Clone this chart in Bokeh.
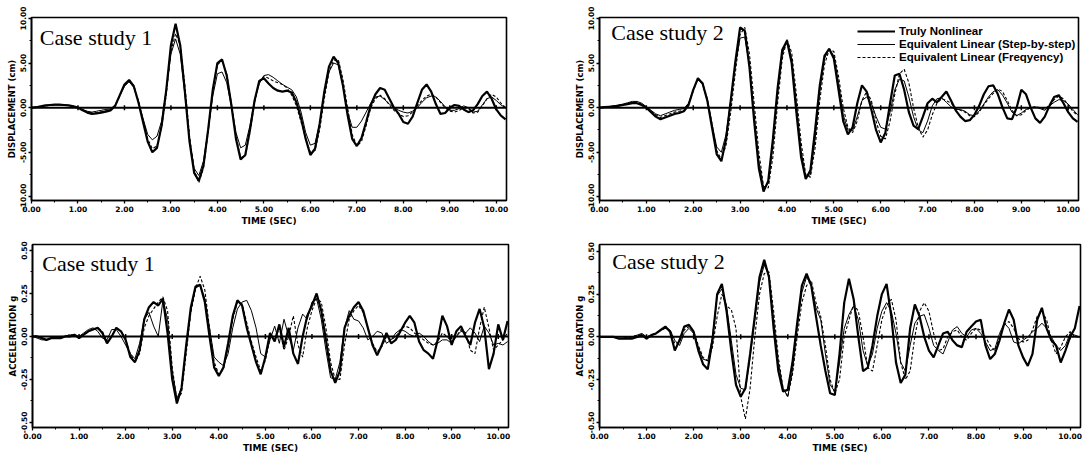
from bokeh.plotting import figure
from bokeh.layouts import column, row
from bokeh.models import (Range1d, FixedTicker, PrintfTickFormatter, Span, Label,
                          Legend, LegendItem)
from bokeh.embed import file_html
from bokeh.resources import INLINE

# ---------------- data ----------------
t = [0.0, 0.1, 0.2, 0.3, 0.4, 0.5, 0.6, 0.7, 0.8, 0.9,
     1.0, 1.1, 1.2, 1.3, 1.4, 1.5, 1.6, 1.7, 1.8, 1.9,
     2.0, 2.1, 2.2, 2.3, 2.4, 2.5, 2.6, 2.7, 2.8, 2.9,
     3.0, 3.1, 3.2, 3.3, 3.4, 3.5, 3.6, 3.7, 3.8, 3.9,
     4.0, 4.1, 4.2, 4.3, 4.4, 4.5, 4.6, 4.7, 4.8, 4.9,
     5.0, 5.1, 5.2, 5.3, 5.4, 5.5, 5.6, 5.7, 5.8, 5.9,
     6.0, 6.1, 6.2, 6.3, 6.4, 6.5, 6.6, 6.7, 6.8, 6.9,
     7.0, 7.1, 7.2, 7.3, 7.4, 7.5, 7.6, 7.7, 7.8, 7.9,
     8.0, 8.1, 8.2, 8.3, 8.4, 8.5, 8.6, 8.7, 8.8, 8.9,
     9.0, 9.1, 9.2, 9.3, 9.4, 9.5, 9.6, 9.7, 9.8, 9.9,
     10.0, 10.1, 10.2]

# Case study 1 - displacement (cm)
disp1_tn = [0, 0.05, 0.15, 0.25, 0.3, 0.35, 0.35, 0.3, 0.25, 0.15,
            0.0, -0.3, -0.55, -0.7, -0.65, -0.55, -0.45, -0.3, 0.2, 1.4,
            2.6, 3.1, 2.4, 0.6, -1.6, -3.8, -5.0, -4.5, -2.0, 2.0,
            7.0, 9.4, 7.0, 1.8, -3.8, -7.3, -8.2, -6.5, -2.5, 2.0,
            5.0, 5.4, 3.6, 0.3, -3.5, -5.8, -5.3, -2.5, 0.8, 3.0,
            3.3, 2.7, 2.2, 1.9, 1.8, 1.9, 1.7, 0.6, -1.2, -3.5,
            -5.3, -4.6, -1.8, 1.8, 4.6, 5.7, 5.0, 2.5, -0.8, -3.5,
            -4.3, -3.4, -1.6, 0.3, 1.5, 2.2, 2.0, 1.0, 0.0, -0.7,
            -1.6, -1.8, -1.0, 0.5, 2.0, 2.6, 1.8, 0.4, -0.7, -0.6,
            0.0, 0.3, 0.2, -0.2, -0.5, -0.3, 0.4, 1.3, 1.8, 1.0,
            -0.2, -0.9, -1.3]
disp1_ss = [0, 0.03, 0.1, 0.2, 0.25, 0.3, 0.3, 0.3, 0.25, 0.15,
            0.0, -0.2, -0.4, -0.5, -0.4, -0.3, -0.2, -0.15, 0.3, 1.4,
            2.4, 2.9, 2.3, 0.7, -1.2, -3.0, -3.6, -3.2, -1.5, 2.0,
            6.0, 7.7, 6.0, 1.5, -3.5, -6.8, -7.6, -6.0, -2.5, 1.3,
            3.8, 4.0, 2.8, 0.2, -2.8, -4.5, -4.2, -2.0, 0.8, 2.7,
            3.6, 3.7, 3.4, 3.0, 2.6, 2.3, 2.0, 1.2, -0.5, -2.8,
            -4.2, -4.0, -1.8, 1.5, 4.0, 5.0, 4.8, 2.5, -0.5, -2.2,
            -2.2, -1.5, -0.5, 0.5, 1.2, 1.3, 0.9, 0.4, 0.0, -0.3,
            -0.5, -0.6, -0.4, 0.0, 0.6, 1.1, 1.3, 1.2, 0.7, 0.1,
            -0.3, -0.3, -0.1, 0.2, 0.0, -0.5, -0.4, 0.3, 1.0, 1.2,
            0.8, 0.3, 0.0]
disp1_fq = [0, 0.04, 0.12, 0.22, 0.28, 0.32, 0.32, 0.3, 0.25, 0.15,
            0.0, -0.25, -0.5, -0.6, -0.55, -0.45, -0.35, -0.25, 0.2, 1.3,
            2.5, 3.0, 2.5, 0.8, -1.4, -3.5, -4.6, -4.3, -2.2, 1.5,
            6.3, 8.3, 7.0, 2.5, -3.2, -7.0, -8.4, -6.8, -2.8, 1.8,
            4.8, 5.3, 3.8, 0.5, -3.2, -5.6, -5.4, -2.8, 0.6, 2.8,
            3.5, 3.3, 3.0, 2.8, 2.6, 2.2, 1.4, 0.2, -1.6, -3.5,
            -5.0, -4.8, -2.5, 1.0, 4.0, 5.3, 5.4, 3.2, 0.0, -3.0,
            -4.3, -3.8, -2.0, 0.0, 1.0, 1.4, 1.0, 0.3, -0.3, -0.7,
            -1.0, -0.9, -0.5, 0.2, 0.8, 1.3, 1.5, 1.2, 0.6, 0.0,
            -0.4, -0.5, -0.3, 0.0, -0.1, -0.6, -0.5, 0.2, 1.0, 1.5,
            1.2, 0.5, 0.0]

# Case study 2 - displacement (cm)
disp2_tn = [0, 0.05, 0.1, 0.15, 0.2, 0.3, 0.4, 0.5, 0.5, 0.3,
            0.0, -0.5, -1.0, -1.3, -1.1, -0.9, -0.7, -0.6, -0.4, 0.3,
            2.0, 3.3, 2.7, 0.8, -2.2, -5.2, -6.0, -3.5, 0.8, 5.2,
            9.0, 8.6, 4.5, -1.5, -6.8, -9.4, -8.2, -3.5, 2.2, 6.5,
            7.5, 5.0, -0.5, -5.5, -8.0, -7.0, -2.5, 2.5, 5.8, 6.6,
            5.5, 2.0, -1.5, -3.0, -2.2, 0.5, 2.5, 1.8, -0.2, -2.5,
            -3.9, -2.8, 0.5, 3.6, 3.8, 2.0, -0.5, -2.0, -2.4, -1.0,
            0.5, 1.0, 0.6, 1.2, 1.8, 0.8, -0.3, -1.0, -1.5, -1.4,
            -0.8, 0.2, 1.5, 2.4, 2.5, 1.5, 0.0, -1.2, -1.3, 0.0,
            2.0, 1.5, 0.0, -1.2, -1.7, -1.0, 0.2, 1.2, 1.4, 0.5,
            -0.5, -1.2, -1.6]
disp2_ss = [0, 0.05, 0.1, 0.2, 0.3, 0.4, 0.55, 0.7, 0.7, 0.5,
            0.1, -0.3, -0.7, -0.9, -0.7, -0.5, -0.3, -0.2, -0.1, 0.5,
            2.0, 3.2, 2.6, 0.8, -1.8, -4.4, -5.0, -3.0, 0.8, 4.8,
            7.8, 7.9, 4.8, -0.8, -6.0, -9.0, -8.5, -4.2, 1.5, 6.0,
            7.6, 5.5, 0.5, -4.8, -7.8, -7.5, -3.5, 1.8, 5.5, 6.6,
            5.8, 2.8, -0.8, -2.5, -2.6, -1.0, 0.8, 1.2, 0.5, -1.0,
            -2.2, -2.4, -0.5, 2.0, 3.2, 3.0, 1.2, -1.0, -2.5, -2.8,
            -1.5, 0.2, 1.0, 1.1, 0.6, 0.1, -0.2, -0.2, -0.4, -0.8,
            -0.9, -0.4, 0.4, 1.2, 1.8, 2.0, 1.4, 0.5, -0.5, -0.9,
            -0.6, -0.2, 0.0, 0.1, -0.1, -0.3, 0.2, 0.6, 0.9, 0.8,
            0.4, -0.2, -0.8]
disp2_fq = [0, 0.05, 0.1, 0.15, 0.25, 0.35, 0.45, 0.6, 0.6, 0.4,
            0.05, -0.4, -0.8, -1.1, -0.9, -0.7, -0.5, -0.4, -0.3, 0.4,
            1.9, 3.2, 2.8, 1.0, -1.8, -4.8, -5.8, -4.2, -0.5, 4.0,
            8.2, 9.0, 6.0, 0.5, -5.0, -8.8, -9.0, -5.5, 0.5, 5.5,
            7.6, 6.2, 1.5, -3.8, -7.5, -7.8, -4.5, 0.8, 4.8, 6.5,
            6.3, 3.5, 0.0, -2.2, -2.8, -1.5, 0.8, 1.8, 0.8, -1.5,
            -3.2, -3.5, -1.5, 1.5, 3.8, 4.3, 2.8, 0.0, -2.2, -3.3,
            -2.5, -0.8, 0.5, 1.0, 0.8, 0.5, 0.0, -0.3, -0.5, -0.9,
            -1.0, -0.5, 0.3, 1.0, 1.6, 2.1, 1.8, 0.8, -0.3, -0.9,
            -0.8, -0.3, 0.0, 0.1, 0.0, -0.2, 0.3, 0.9, 1.3, 1.0,
            0.3, -0.4, -0.9]

# Case study 1 - acceleration (g)
acc1_tn = [0, 0, -0.01, -0.02, -0.01, -0.01, -0.01, 0.0, 0.0, 0.01,
           -0.01, 0.01, 0.03, 0.04, 0.05, 0.02, -0.04, 0.0, 0.05, 0.03,
           -0.02, -0.12, -0.15, -0.08, 0.1, 0.17, 0.2, 0.18, 0.22, 0.02,
           -0.25, -0.39, -0.3, -0.05, 0.17, 0.29, 0.3, 0.2, 0.0, -0.18,
           -0.23, -0.18, -0.04, 0.12, 0.21, 0.18, 0.05, -0.05, -0.15, -0.22,
           -0.12, 0.02, -0.03, 0.07, -0.06, 0.05, -0.1, -0.16, 0.0, 0.12,
           0.18, 0.25, 0.15, -0.02, -0.2, -0.27, -0.2, 0.05, 0.12, 0.17,
           0.2, 0.15, 0.05, -0.05, -0.11, -0.05, 0.02, -0.04, -0.02, 0.03,
           0.08, 0.12, 0.08, -0.03, -0.08, -0.1, -0.13, -0.02, 0.12, 0.06,
           -0.05, 0.03, 0.06, 0.0, -0.05, 0.08, 0.16, 0.05, -0.19, -0.1,
           0.07, -0.02, 0.09]
acc1_ss = [0, -0.01, -0.02, -0.02, -0.01, -0.01, 0, 0, 0.01, 0,
           0, 0.02, 0.04, 0.05, 0.03, -0.01, -0.02, 0.04, 0.04, 0.0,
           -0.05, -0.1, -0.13, -0.04, 0.1, 0.14, 0.06, 0.0, 0.21, 0.1,
           -0.2, -0.36, -0.3, -0.07, 0.15, 0.28, 0.3, 0.22, 0.05, -0.12,
           -0.15, -0.17, -0.1, 0.05, 0.16, 0.2, 0.21, 0.15, 0.05, -0.1,
           -0.12, -0.02, 0.06, -0.04, 0.1, 0.0, -0.08, 0.05, 0.13, 0.1,
           0.2, 0.22, 0.1, -0.08, -0.24, -0.25, -0.15, 0.05, 0.15, 0.1,
           0.09, 0.05, -0.02, 0.0, 0.03, 0.02, -0.04, -0.02, 0.02, 0.04,
           0.03, 0.01, 0.0, 0.02, 0.0, -0.03, -0.05, -0.04, -0.02, -0.02,
           -0.04, 0.0, 0.03, 0.02, 0.05, 0.02, -0.03, 0.06, 0.02, -0.05,
           -0.04, -0.05, -0.03]
acc1_fq = [0, 0, -0.01, -0.02, -0.01, -0.01, 0, 0, 0.01, 0.01,
           0, 0.01, 0.03, 0.04, 0.05, 0.03, -0.03, 0.0, 0.05, 0.03,
           -0.02, -0.1, -0.15, -0.1, 0.05, 0.12, 0.16, 0.2, 0.23, 0.15,
           -0.18, -0.37, -0.33, -0.1, 0.14, 0.28, 0.35, 0.27, 0.05, -0.15,
           -0.22, -0.19, -0.06, 0.1, 0.2, 0.19, 0.08, -0.03, -0.12, -0.2,
           -0.14, 0.0, -0.02, 0.05, -0.08, 0.0, 0.12, -0.05, -0.12, 0.05,
           0.15, 0.22, 0.2, 0.05, -0.15, -0.25, -0.25, -0.05, 0.1, 0.15,
           0.18, 0.14, 0.05, -0.04, -0.09, -0.06, 0.0, -0.02, 0.0, 0.04,
           0.06, 0.05, 0.02, 0.0, -0.02, -0.04, -0.05, -0.03, 0.02, 0.0,
           -0.03, 0.0, 0.04, 0.02, -0.08, -0.1, 0.05, 0.17, 0.05, -0.08,
           -0.05, -0.02, 0.02]

# Case study 2 - acceleration (g)
acc2_tn = [0, 0, 0, 0, -0.01, -0.01, -0.01, -0.01, 0.0, 0.01,
           -0.01, 0.01, 0.02, 0.04, 0.06, 0.03, -0.08, -0.02, 0.06, 0.07,
           0.03, -0.08, -0.16, -0.19, -0.02, 0.25, 0.31, 0.15, -0.08, -0.28,
           -0.35, -0.3, -0.1, 0.12, 0.35, 0.45, 0.35, 0.05, -0.2, -0.32,
           -0.31, -0.15, 0.08, 0.3, 0.37, 0.3, 0.12, -0.05, -0.2, -0.33,
           -0.34, -0.1, 0.2, 0.34, 0.22, 0.0, -0.2, -0.18, -0.05, 0.12,
           0.25, 0.31, 0.12, -0.15, -0.27, -0.22, 0.05, 0.19, 0.12, 0.0,
           -0.08, -0.12, -0.05, 0.02, 0.03, -0.02, -0.05, -0.06, 0.03, 0.06,
           0.09, 0.1, -0.05, -0.13, -0.1, -0.02, 0.08, 0.16, 0.1, -0.05,
           -0.12, -0.17, -0.1, 0.1, 0.17, 0.05, -0.02, -0.05, -0.15, -0.08,
           0.0, 0.05, 0.18]
acc2_ss = [0, 0, 0, 0, -0.01, -0.01, 0, 0, 0.01, 0.02,
           0.0, 0.01, 0.02, 0.04, 0.05, 0.04, -0.02, -0.05, 0.02, 0.05,
           0.02, -0.06, -0.13, -0.14, 0.0, 0.24, 0.28, 0.18, -0.02, -0.22,
           -0.3, -0.31, -0.12, 0.1, 0.32, 0.42, 0.36, 0.1, -0.15, -0.3,
           -0.35, -0.2, 0.05, 0.26, 0.35, 0.3, 0.17, 0.1, -0.1, -0.28,
           -0.32, -0.15, 0.05, 0.13, 0.18, 0.1, -0.08, -0.17, -0.1, 0.05,
           0.15, 0.2, 0.15, 0.02, -0.15, -0.2, -0.05, 0.08, 0.12, 0.13,
           0.05, -0.05, -0.08, -0.1, -0.03, 0.04, 0.06, 0.02, 0.0, 0.04,
           0.05, 0.02, -0.03, -0.08, -0.07, 0.02, 0.08, 0.05, -0.03, -0.04,
           -0.02, 0.0, 0.03, 0.05, 0.08, 0.05, 0.0, -0.05, -0.08, -0.05,
           0.02, 0.01, 0.0]
acc2_fq = [0, 0, 0, 0, -0.01, -0.01, 0, 0, 0.01, 0.01,
           0.0, 0.01, 0.02, 0.04, 0.05, 0.04, -0.04, -0.03, 0.04, 0.06,
           0.03, -0.05, -0.12, -0.14, -0.06, 0.12, 0.25, 0.18, 0.16, 0.05,
           -0.35, -0.48, -0.3, 0.0, 0.25, 0.37, 0.38, 0.15, -0.12, -0.3,
           -0.35, -0.22, 0.0, 0.2, 0.3, 0.33, 0.2, 0.12, -0.05, -0.25,
           -0.33, -0.25, 0.0, 0.1, 0.19, 0.15, 0.0, -0.18, -0.2, -0.05,
           0.1, 0.18, 0.22, 0.1, -0.15, -0.25, -0.2, 0.0, 0.15, 0.2,
           0.15, 0.02, -0.08, -0.07, 0.0, 0.03, 0.04, 0.0, -0.02, 0.02,
           0.05, 0.04, 0.0, -0.05, -0.08, 0.0, 0.07, 0.09, 0.05, -0.01,
           -0.03, -0.02, 0.04, 0.12, 0.15, 0.1, -0.02, -0.1, -0.06, 0.0,
           0.03, 0.0, 0.0]

x_ticks = [0, 1, 2, 3, 4, 5, 6, 7, 8, 9, 10]
x_minor = [0.5, 1.5, 2.5, 3.5, 4.5, 5.5, 6.5, 7.5, 8.5, 9.5]
disp_ticks = [-10, -5, 0, 5, 10]
disp_minor = [-7.5, -2.5, 2.5, 7.5]
acc_ticks = [-0.5, -0.25, 0, 0.25, 0.5]
acc_minor = [-0.375, -0.125, 0.125, 0.375]
zero_marks = [1, 2, 3, 4, 5, 6, 7, 8, 9, 10]
zero_vals = [0, 0, 0, 0, 0, 0, 0, 0, 0, 0]

series_names = ["Truly Nonlinear", "Equivalent Linear (Step-by-step)",
                "Equivalent Linear (Freqyency)"]

AXF = "DejaVu Sans"


def make_panel(width, height, bl, br, bt, bb, yr, yticks, yminor, ylabel,
               tn, ss, fq, case_text, case_x, case_y, legend=False):
    p = figure(width=width, height=height, output_backend="svg",
               toolbar_location=None, x_range=Range1d(0, 10.22),
               y_range=Range1d(*yr), min_border_left=bl, min_border_right=br,
               min_border_top=bt, min_border_bottom=bb)
    p.background_fill_color = "white"
    p.border_fill_color = "white"
    p.outline_line_color = "black"
    p.outline_line_width = 1.6
    p.xgrid.visible = False
    p.ygrid.visible = False

    xa = p.xaxis[0]
    xa.ticker = FixedTicker(ticks=x_ticks, minor_ticks=x_minor)
    xa.formatter = PrintfTickFormatter(format="%.2f")
    xa.axis_label = "TIME (SEC)"
    ya = p.yaxis[0]
    ya.ticker = FixedTicker(ticks=yticks, minor_ticks=yminor)
    ya.formatter = PrintfTickFormatter(format="%.2f")
    ya.axis_label = ylabel
    ya.major_label_orientation = "vertical"
    for ax in (xa, ya):
        ax.axis_line_color = "black"
        ax.axis_line_width = 1.6
        ax.major_tick_line_color = "black"
        ax.minor_tick_line_color = "black"
        ax.major_tick_line_width = 1.3
        ax.minor_tick_line_width = 1.0
        ax.major_tick_in = 0
        ax.major_tick_out = 3
        ax.minor_tick_in = 0
        ax.minor_tick_out = 2
        ax.major_label_text_font = AXF
        ax.major_label_text_font_style = "bold"
        ax.major_label_text_font_size = "7.5px"
        ax.major_label_text_color = "black"
        ax.major_label_standoff = 2
        ax.axis_label_text_font = AXF
        ax.axis_label_text_font_style = "bold"
        ax.axis_label_text_color = "black"
        ax.axis_label_standoff = 1
    xa.axis_label_text_font_size = "9px"
    ya.axis_label_text_font_size = "8.5px"

    p.add_layout(Span(location=0, dimension="width", line_color="black",
                      line_width=2))
    p.scatter(zero_marks, zero_vals, marker="dash", angle=1.5708, size=5,
              line_color="black", line_width=1.5)

    r_fq = p.line(t, fq, line_color="black", line_width=1.1, line_dash="3 2")
    r_ss = p.line(t, ss, line_color="black", line_width=1.0)
    r_tn = p.line(t, tn, line_color="black", line_width=2.2)

    p.add_layout(Label(x=case_x, y=case_y, text=case_text,
                       text_font="Liberation Serif", text_font_size="22px",
                       text_color="black", text_baseline="alphabetic"))

    if legend:
        lg = Legend(items=[LegendItem(label=series_names[0], renderers=[r_tn]),
                           LegendItem(label=series_names[1], renderers=[r_ss]),
                           LegendItem(label=series_names[2], renderers=[r_fq])],
                    location=(258, 137), orientation="vertical",
                    background_fill_alpha=0, border_line_alpha=0,
                    label_text_font="Liberation Sans",
                    label_text_font_style="bold", label_text_font_size="11.5px",
                    label_text_color="black", glyph_width=38, glyph_height=12,
                    label_height=12, label_standoff=4, spacing=1, padding=0,
                    margin=0)
        p.add_layout(lg, "center")
    return p


p1 = make_panel(540, 233, 31, 34, 17, 32, (-10.4, 10.1), disp_ticks, disp_minor,
                "DISPLACEMENT (cm)", disp1_tn, disp1_ss, disp1_fq,
                "Case study 1", 0.18, 7.9)
p2 = make_panel(547, 233, 59, 9, 16, 33, (-10.4, 10.1), disp_ticks, disp_minor,
                "DISPLACEMENT (cm)", disp2_tn, disp2_ss, disp2_fq,
                "Case study 2", 0.25, 8.4, legend=True)
p3 = make_panel(540, 226, 32, 32, 11, 32, (-0.53, 0.535), acc_ticks, acc_minor,
                "ACCELERATION g", acc1_tn, acc1_ss, acc1_fq,
                "Case study 1", 0.21, 0.426)
p4 = make_panel(547, 226, 59, 7, 8, 32, (-0.53, 0.54), acc_ticks, acc_minor,
                "ACCELERATION g", acc2_tn, acc2_ss, acc2_fq,
                "Case study 2", 0.27, 0.44)

layout = column(row(p1, p2), row(p3, p4))

with open("out.html", "w") as f:
    f.write(file_html(layout, INLINE))
